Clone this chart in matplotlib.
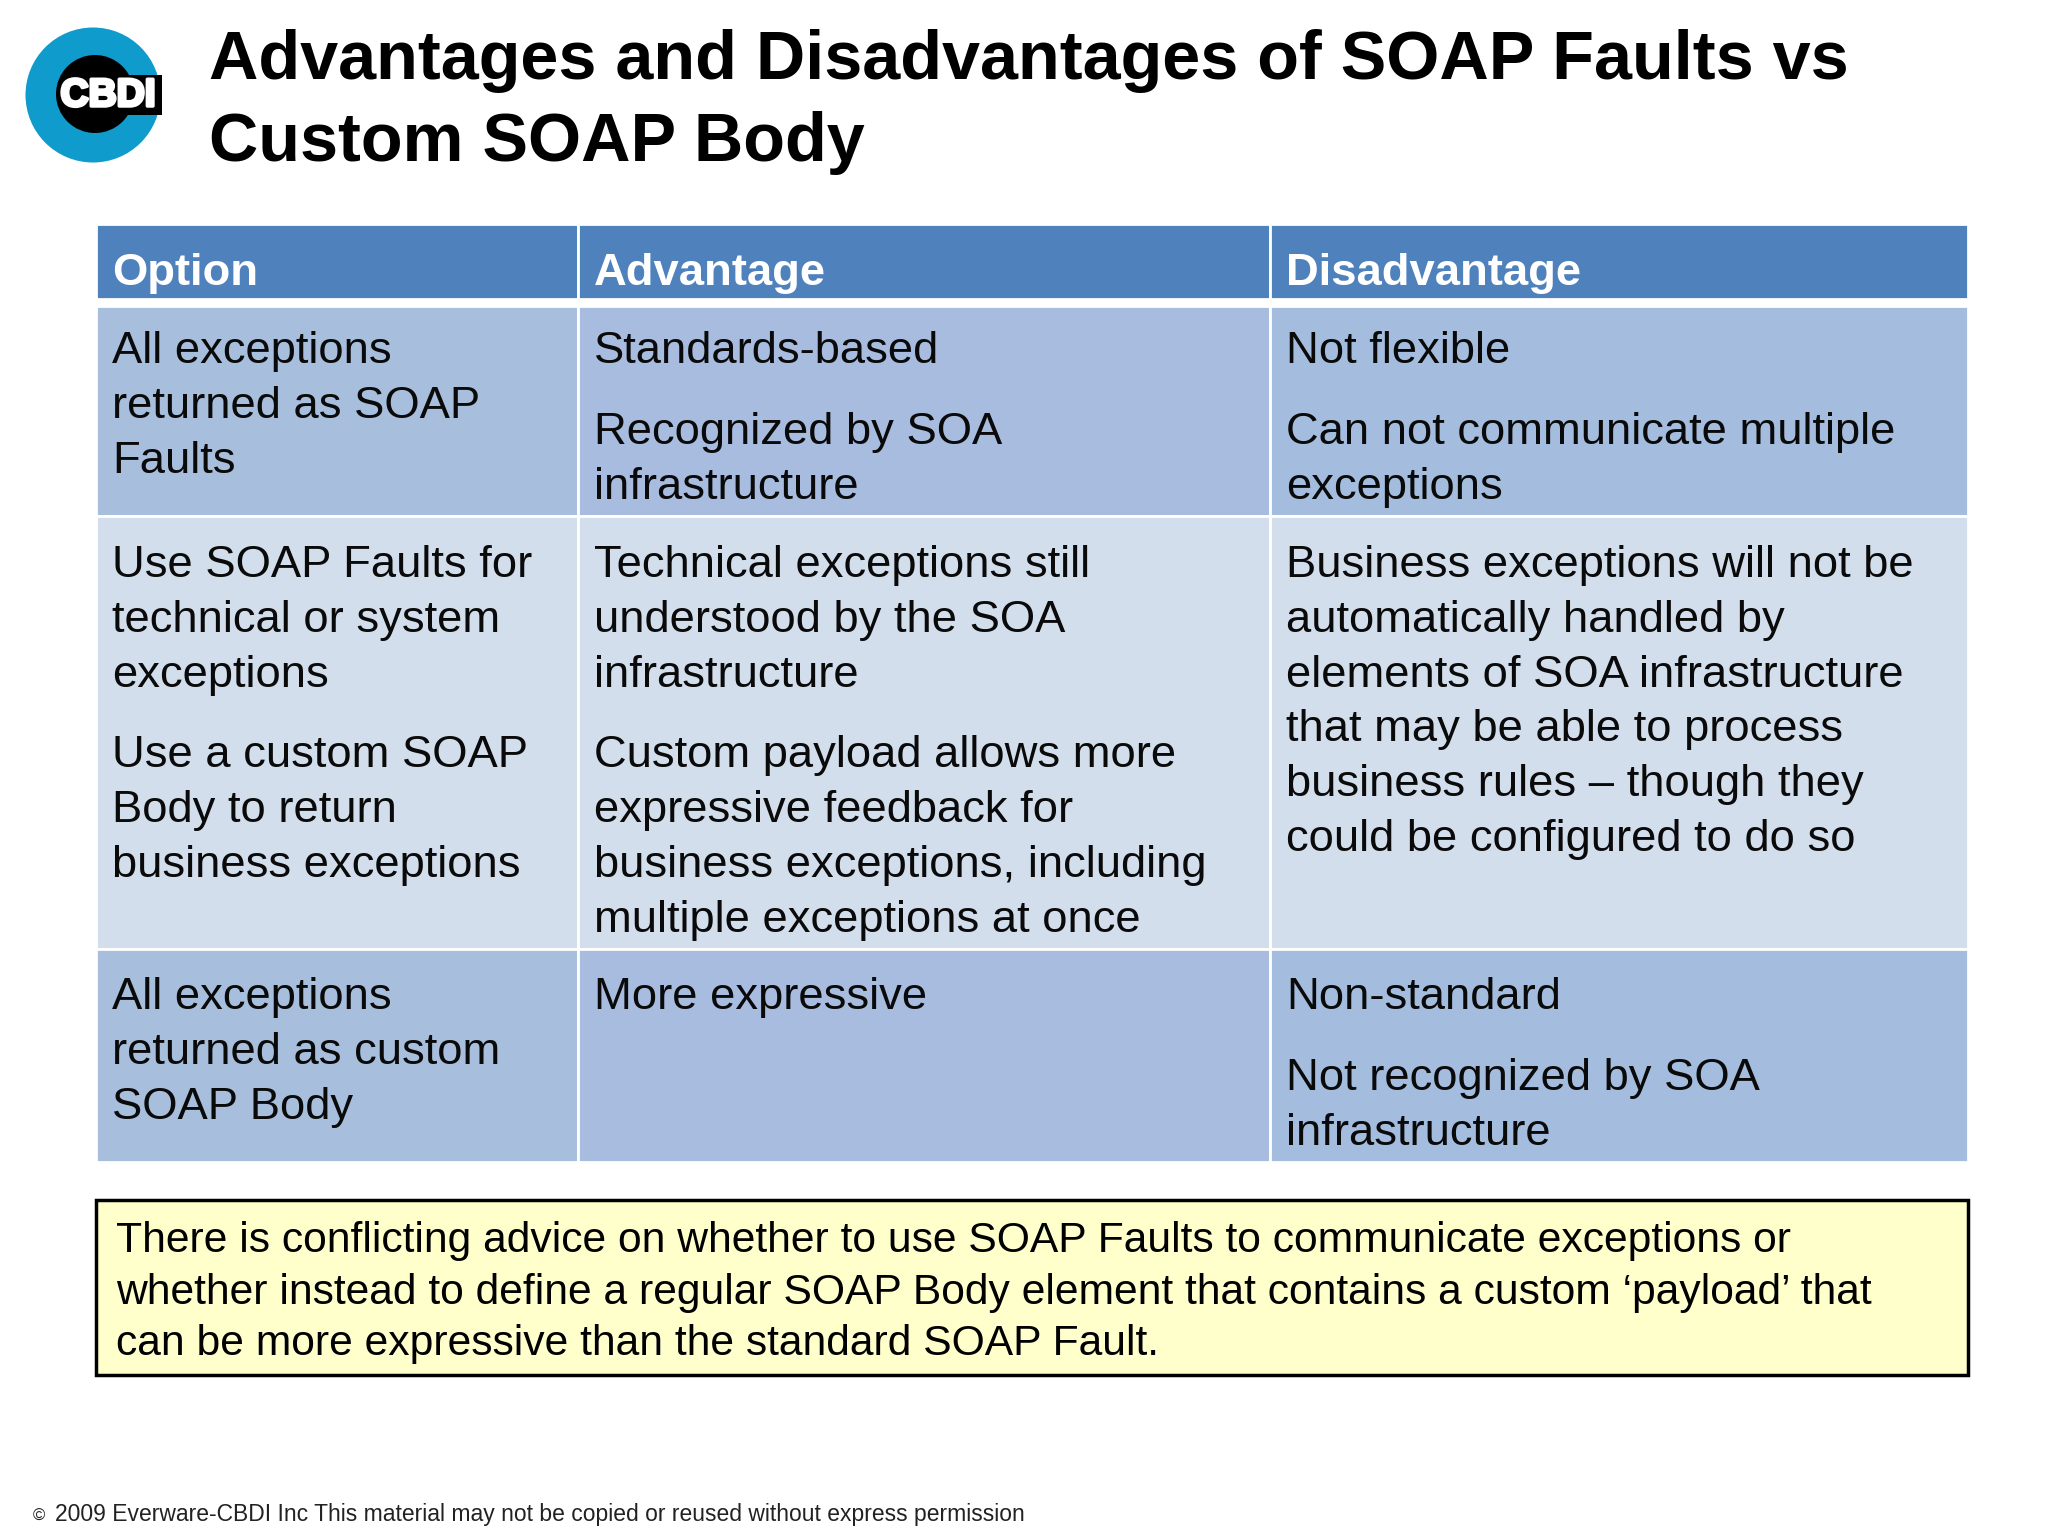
import matplotlib
matplotlib.use('Agg')
import matplotlib.pyplot as plt
import matplotlib.patheffects as pe
from matplotlib.patches import Rectangle, Circle

plt.rcParams['font.family'] = ['Liberation Sans', 'DejaVu Sans']

title_lines = ['Advantages and Disadvantages of SOAP Faults vs', 'Custom SOAP Body']
headers = ['Option', 'Advantage', 'Disadvantage']

# '' marks a paragraph break inside a cell
row1 = [
    ['All exceptions', 'returned as SOAP', 'Faults'],
    ['Standards-based', '', 'Recognized by SOA', 'infrastructure'],
    ['Not flexible', '', 'Can not communicate multiple', 'exceptions'],
]
row2 = [
    ['Use SOAP Faults for', 'technical or system', 'exceptions', '',
     'Use a custom SOAP', 'Body to return', 'business exceptions'],
    ['Technical exceptions still', 'understood by the SOA', 'infrastructure', '',
     'Custom payload allows more', 'expressive feedback for',
     'business exceptions, including', 'multiple exceptions at once'],
    ['Business exceptions will not be', 'automatically handled by',
     'elements of SOA infrastructure', 'that may be able to process',
     'business rules \u2013 though they', 'could be configured to do so'],
]
row3 = [
    ['All exceptions', 'returned as custom', 'SOAP Body'],
    ['More expressive'],
    ['Non-standard', '', 'Not recognized by SOA', 'infrastructure'],
]
rows = [row1, row2, row3]

note_lines = [
    'There is conflicting advice on whether to use SOAP Faults to communicate exceptions or',
    'whether instead to define a regular SOAP Body element that contains a custom \u2018payload\u2019 that',
    'can be more expressive than the standard SOAP Fault.',
]
footer = '2009 Everware-CBDI Inc This material may not be copied or reused without express permission'

# layout, in reference pixels
col_edges = [96, 578, 1270, 1968]
header_top, header_bottom = 224, 299
row_edges = [306, 516, 949, 1162]
row_baselines = [363, 577, 1009]
row_colors = [['#A7BEDC', '#A8BCDF', '#A4BDDE'],
              ['#D3DEED', '#D3DEED', '#D3DEED'],
              ['#A7BEDC', '#A8BCDF', '#A4BDDE']]
text_pad = 16
line_step = 54.8
para_gap = 26

fig = plt.figure(figsize=(20.48, 15.36), dpi=100)
ax = fig.add_axes([0, 0, 1, 1])
ax.set_xlim(0, 2048)
ax.set_ylim(1536, 0)
ax.axis('off')

# logo
ax.add_patch(Circle((93, 95), 67.5, fc='#0F9BCB', ec='none'))
ax.add_patch(Circle((95, 94), 39, fc='black', ec='none'))
ax.add_patch(Rectangle((112, 75), 50, 40, fc='black', ec='none'))
ax.text(108, 96, 'CBDI', fontsize=28, fontweight='bold', color='white',
        ha='center', va='center',
        path_effects=[pe.withStroke(linewidth=2.5, foreground='white')])

# title
ax.text(209, 79, title_lines[0], fontsize=49.25, fontweight='bold', va='baseline')
ax.text(209, 161, title_lines[1], fontsize=49.25, fontweight='bold', va='baseline')

# header row
for i, name in enumerate(headers):
    x0, x1 = col_edges[i], col_edges[i + 1]
    ax.add_patch(Rectangle((x0, header_top), x1 - x0, header_bottom - header_top,
                           fc='#4F81BD', ec='white', lw=2))
    ax.text(x0 + text_pad, 285, name, fontsize=32.7, fontweight='bold', color='white',
            va='baseline')

# body rows
top = header_bottom + 7
for r, row in enumerate(rows):
    bottom = row_edges[r + 1]
    for c, lines in enumerate(row):
        x0, x1 = col_edges[c], col_edges[c + 1]
        ax.add_patch(Rectangle((x0, top), x1 - x0, bottom - top,
                               fc=row_colors[r][c], ec='white', lw=2))
        y = row_baselines[r]
        for line in lines:
            if line == '':
                y += para_gap
                continue
            ax.text(x0 + text_pad, y, line, fontsize=32.65, va='baseline', color='#0A0A0A')
            y += line_step
    top = bottom

# note box
ax.add_patch(Rectangle((96, 1200), 1872, 175, fc='#FFFFCC', ec='black', lw=2.5))
for i, line in enumerate(note_lines):
    ax.text(116, 1252 + i * 51.7, line, fontsize=30.68, va='baseline', color='black')

# footer
ax.text(33, 1521, '\u00a9', fontsize=12, va='baseline', color='#222222')
ax.text(55, 1521, footer, fontsize=16.5, va='baseline', color='#222222')

fig.savefig('out.png', dpi=100)
